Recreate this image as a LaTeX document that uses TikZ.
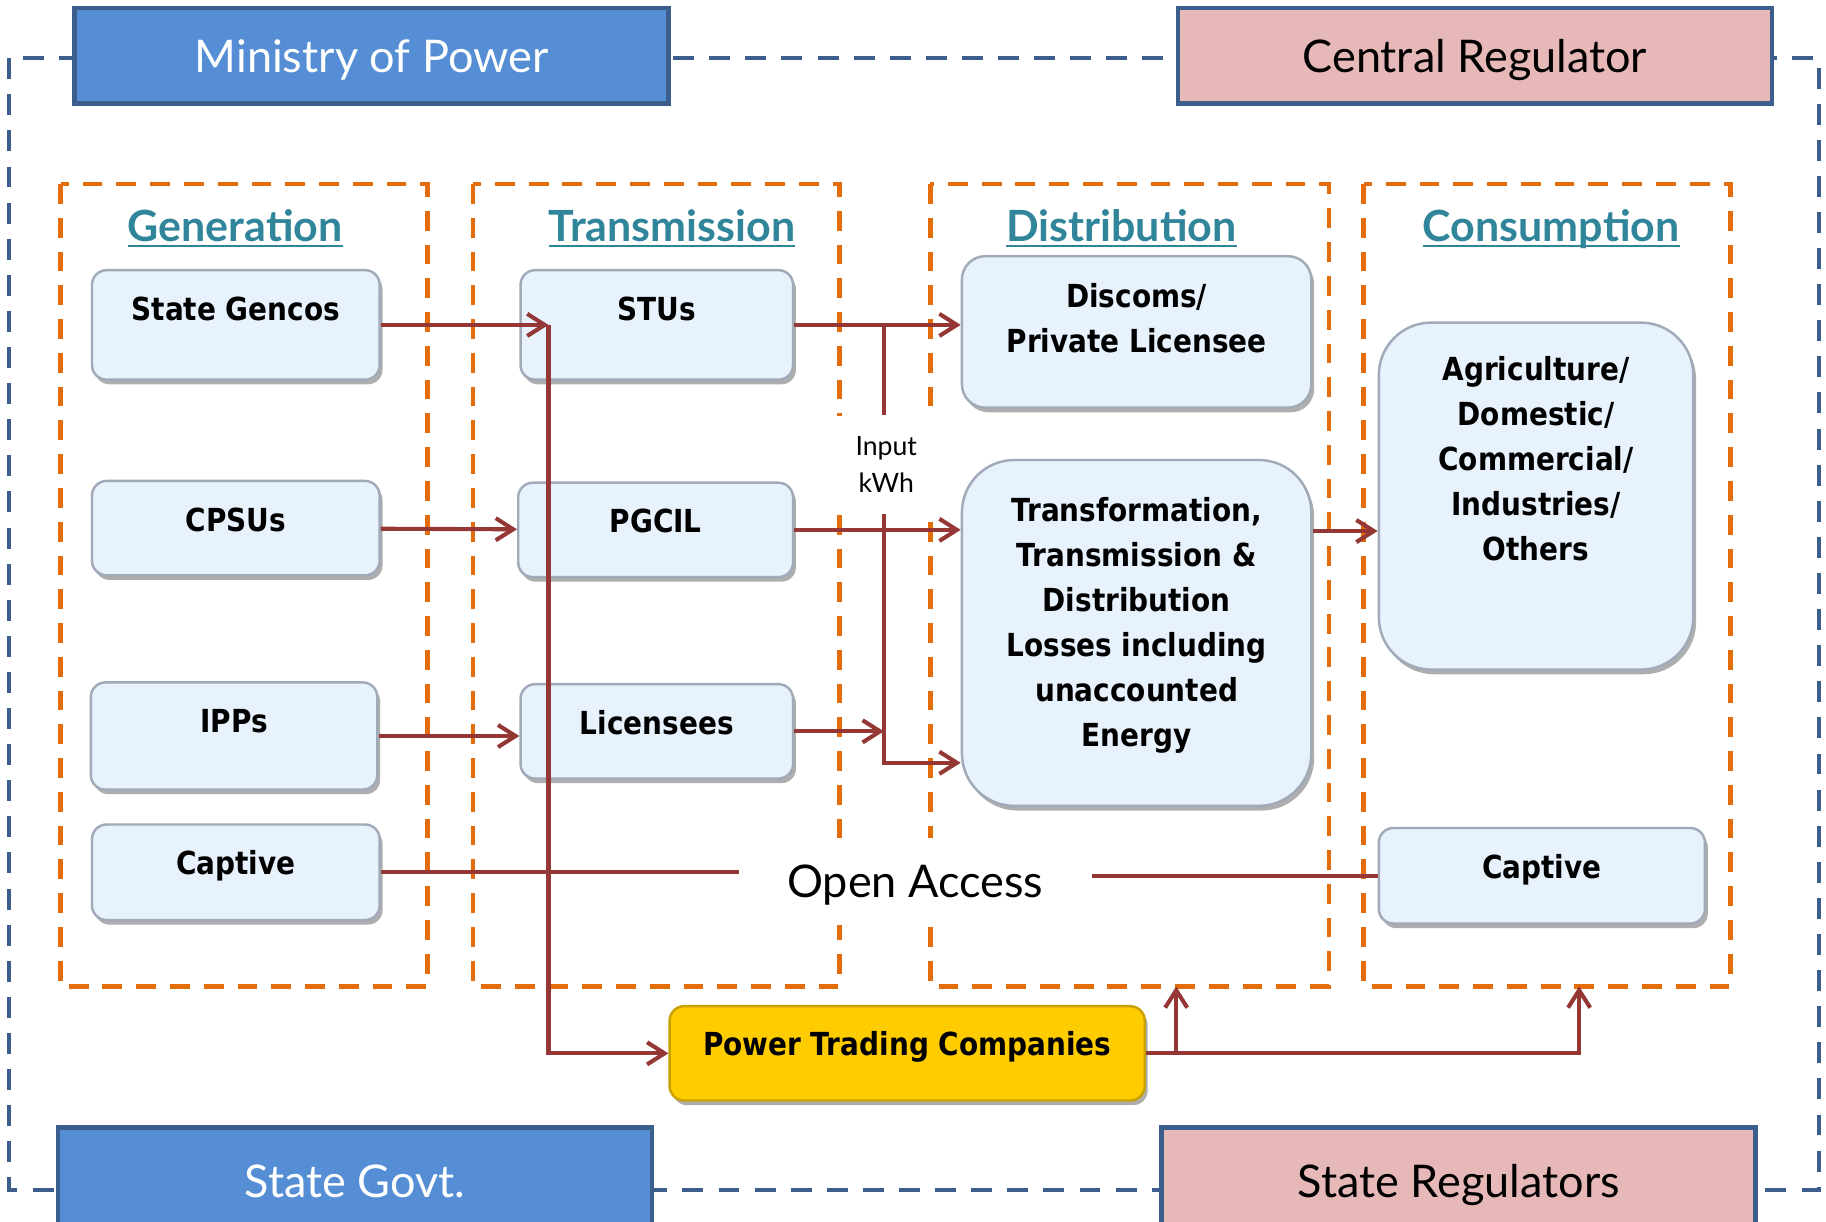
\documentclass[tikz,border=0pt]{standalone}
\usepackage{fontspec}
\usepackage{tikz}
\usetikzlibrary{arrows.meta,shadows}

\newfontfamily\titlefont{Lato}
\newfontfamily\boxfont{DejaVu Sans}[FakeStretch=0.88]

% width, height, first baseline, text
\newcommand{\boxtext}[4]{\parbox[c][#2][t]{#1}{\centering\rule{0pt}{#3}#4}}
% underlined heading
\newcommand{\headline}[1]{\setbox0\hbox{#1}\rlap{\rule[-0.1cm]{\wd0}{1.1pt}}\box0}

\begin{document}
\begin{tikzpicture}
            % \draw [help lines,step = 1 cm] (0,-21) grid (32,0);

            \definecolor{minColor}{RGB}{85,142,213}
            \definecolor{regColor}{RGB}{230,185,184}
            \definecolor{frameColor}{RGB}{59,94,140}
            \definecolor{orangeColor}{RGB}{228,108,10}
            \definecolor{headColor}{RGB}{49,133,155}
            \definecolor{arrowColor}{RGB}{149,55,53}
            \definecolor{boxColor}{RGB}{232,242,253}
            \definecolor{edgeColor}{RGB}{160,170,185}
            \definecolor{tradeColor}{RGB}{255,204,0}
            \definecolor{tradeEdge}{RGB}{200,160,0}

            \tikzset{
                outerframe/.style = {draw = frameColor, line width = 1.8pt, dash pattern = on 0.36cm off 0.26cm},
                stagebox/.style = {draw = orangeColor, line width = 2.2pt, dash pattern = on 0.34cm off 0.24cm},
                head/.style = {text = headColor, anchor = base, font = \titlefont\bfseries\fontsize{21}{25}\selectfont},
                titlebox/.style = {draw = frameColor, line width = 2.2pt, minimum width = 10.2cm, minimum height = 1.64cm, inner sep = 0pt,
                    text height = 0.56cm, text depth = 0pt, font = \titlefont\fontsize{22}{26}\selectfont},
                unitbox/.style = {draw = edgeColor, line width = 1.2pt, fill = boxColor, rounded corners = 0.25cm, inner sep = 0pt,
                    drop shadow = {shadow xshift = 0.05cm, shadow yshift = -0.08cm, opacity = 0.45, fill = black!70},
                    font = \boxfont\bfseries\fontsize{15.5}{22}\selectfont},
                link/.style = {draw = arrowColor, line width = 2pt},
                flow/.style = {link, -{Straight Barb[length = 0.3cm, width = 0.38cm]}}
            }

            \useasboundingbox (0,0) rectangle (31.36,-20.98);

            % outer frame and the four stages
            \draw [outerframe] (0.16,-1.0) rectangle (31.24,-20.44);

            \draw [stagebox] (1.04,-3.16) rectangle (7.34,-16.94);
            \draw [stagebox] (8.12,-3.16) rectangle (14.42,-16.94);
            \draw [stagebox] (15.98,-3.16) rectangle (22.82,-16.94);
            \draw [stagebox] (23.42,-3.16) rectangle (29.72,-16.94);

            \node [head] (hgen) at (4.04,-4.14) {\headline{Generation}};
            \node [head] (htrans) at (11.54,-4.14) {\headline{Transmission}};
            \node [head] (hdist) at (19.26,-4.14) {\headline{Distribution}};
            \node [head] (hcons) at (26.64,-4.14) {\headline{Consumption}};

            % authorities
            \node [titlebox, fill = minColor, text = white] (mop) at (6.38,-0.96) {Ministry of Power};
            \node [titlebox, fill = regColor] (creg) at (25.33,-0.96) {Central Regulator};
            \node [titlebox, fill = minColor, text = white, minimum height = 1.84cm] (sgov) at (6.1,-20.28) {State Govt.};
            \node [titlebox, fill = regColor, minimum height = 1.84cm] (sreg) at (25.05,-20.28) {State Regulators};

            % generation
            \node [unitbox] (gencos) at (4.05,-5.58) {\boxtext{4.94cm}{1.88cm}{0.86cm}{State Gencos}};
            \node [unitbox] (cpsu) at (4.05,-9.07) {\boxtext{4.94cm}{1.62cm}{0.86cm}{CPSUs}};
            \node [unitbox] (ipp) at (4.02,-12.64) {\boxtext{4.92cm}{1.84cm}{0.86cm}{IPPs}};
            \node [unitbox] (capgen) at (4.05,-14.98) {\boxtext{4.94cm}{1.64cm}{0.86cm}{Captive}};

            % transmission
            \node [unitbox] (stu) at (11.28,-5.58) {\boxtext{4.68cm}{1.88cm}{0.86cm}{STUs}};
            \node [unitbox] (pgcil) at (11.26,-9.1) {\boxtext{4.72cm}{1.62cm}{0.86cm}{PGCIL}};
            \node [unitbox] (lic) at (11.28,-12.56) {\boxtext{4.68cm}{1.62cm}{0.86cm}{Licensees}};

            % distribution
            \node [unitbox, rounded corners = 0.4cm] (discom) at (19.52,-5.70) {\boxtext{6cm}{2.6cm}{0.88cm}{Discoms/\\Private Licensee}};
            \node [unitbox, rounded corners = 0.9cm] (loss) at (19.52,-10.87) {\boxtext{6cm}{5.94cm}{1.06cm}{Transformation,\\Transmission \&\\Distribution\\Losses including\\unaccounted\\Energy}};

            % consumption
            \node [unitbox, rounded corners = 0.9cm] (agri) at (26.38,-8.52) {\boxtext{5.4cm}{5.96cm}{1.0cm}{Agriculture/\\Domestic/\\Commercial/\\Industries/\\Others}};
            \node [unitbox] (capcon) at (26.48,-15.04) {\boxtext{5.6cm}{1.64cm}{0.86cm}{Captive}};

            \node [unitbox, fill = tradeColor, draw = tradeEdge] (ptc) at (15.58,-18.09) {\boxtext{8.16cm}{1.62cm}{0.84cm}{Power Trading Companies}};

            % labels over the dashed lines
            \node [fill = white, minimum width = 1.72cm, minimum height = 1.68cm, align = center,
                   font = \titlefont\fontsize{13}{18}\selectfont] (inp) at (15.22,-7.98) {Input\\kWh};
            \node [fill = white, minimum width = 6.04cm, minimum height = 1.5cm, text height = 0.56cm, text depth = 0pt,
                   font = \titlefont\fontsize{22}{26}\selectfont] (oa) at (15.72,-15.14) {Open Access};

            % connectors
            \coordinate (j1) at (9.42,-5.58);
            \coordinate (j2) at (15.18,-5.58);
            \coordinate (j3) at (15.18,-13.1);
            \coordinate (u1) at (20.2,-16.94);
            \coordinate (u2) at (27.12,-16.94);

            \draw [flow] (gencos.east) -- (j1);
            \draw [flow] (j1) |- (ptc.west);
            \draw [flow] (cpsu) -- (pgcil);
            \draw [flow] (ipp.east) -- (ipp.east -| lic.west);
            \draw [link] (capgen.east) -- (capgen.east -| oa.west);
            \draw [link] (oa.east |- capcon.west) -- (capcon.west);

            \draw [flow] (stu.east) -- (stu.east -| discom.west);
            \draw [link] (j2) -- (j2 |- inp.north);
            \draw [flow] (j2 |- inp.south) -- (j3) -- (j3 -| loss.west);
            \draw [flow] (pgcil.east) -- (pgcil.east -| loss.west);
            \draw [flow] (lic.east) -- (lic.east -| j3);
            \draw [flow] (loss.east |- 0,-9.12) -- (agri.west |- 0,-9.12);

            \draw [flow] (ptc.east) -| (u2);
            \draw [flow] (ptc.east -| u1) -- (u1);

\end{tikzpicture}
\end{document}
